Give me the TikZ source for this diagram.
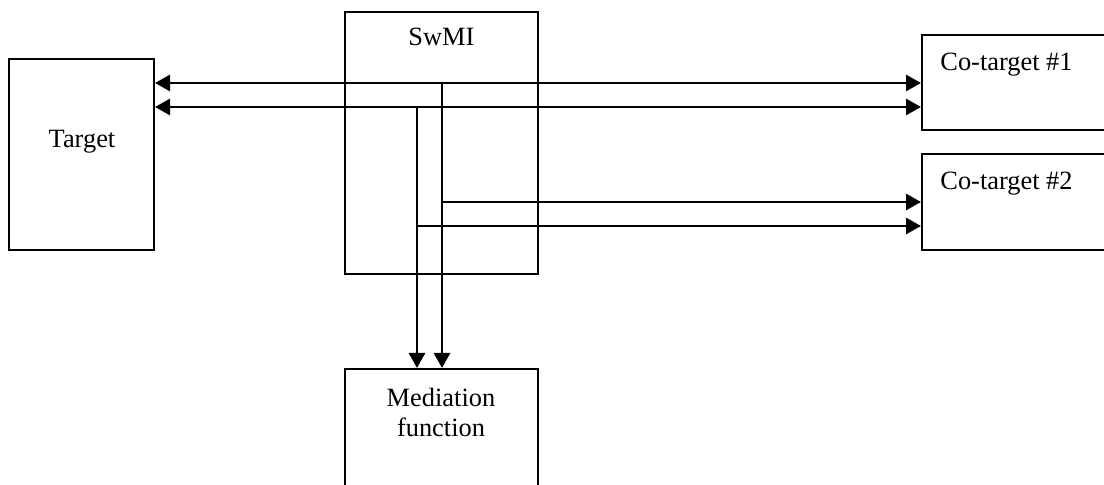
\documentclass[tikz,border=0pt]{standalone}
\usepackage{fontspec}
\setmainfont{Liberation Serif}
\usetikzlibrary{arrows.meta}
\begin{document}
\begin{tikzpicture}[x=0.5pt,y=-0.5pt,
  box/.style={draw,line width=1pt,rectangle,inner sep=0pt},
  lbl/.style={inner sep=0pt,font=\fontsize{13.2}{15}\selectfont},
  arr/.style={line width=1.4pt,-{Triangle[length=7.5pt,width=8pt]}},
  darr/.style={line width=1.4pt,{Triangle[length=7.5pt,width=8pt]}-{Triangle[length=7.5pt,width=8pt]}}]
\clip (0,0) rectangle (1104,485);
\fill[white] (0,0) rectangle (1104,485);
% boxes
\node[box,minimum width=72.5pt,minimum height=95.5pt] (Target) at (81.5,154.5) {};
\node[box,minimum width=96.5pt,minimum height=131pt] (SwMI) at (441.5,143) {};
\node[box,minimum width=99pt,minimum height=47.5pt] (Co1) at (1021,82.5) {};
\node[box,minimum width=99pt,minimum height=48pt] (Co2) at (1021,202) {};
\node[box,minimum width=96.5pt,minimum height=75.5pt] (Med) at (441.5,444.5) {};
% labels
\node[lbl,anchor=base] (tTarget) at (82,148) {Target};
\node[lbl,anchor=base] (tSwMI) at (441.5,46) {SwMI};
\node[lbl,anchor=base west] (tCo1) at (940,71) {Co-target \#1};
\node[lbl,anchor=base west] (tCo2) at (940,190) {Co-target \#2};
\node[lbl,anchor=north,align=center] (tMed) at (441,388) {Mediation\\function};
% routing coordinates
\coordinate (r1) at (442,83);
\coordinate (r2) at (417,107);
\coordinate (h1) at (442,202);
\coordinate (h2) at (417,226);
% connectors
\draw[darr] (Target.east |- r1) -- (Co1.west |- r1);
\draw[darr] (Target.east |- r2) -- (Co1.west |- r2);
\draw[arr] (r1) -- (r1 |- Med.north);
\draw[arr] (r2) -- (r2 |- Med.north);
\draw[arr] (h1) -- (Co2.west |- h1);
\draw[arr] (h2) -- (Co2.west |- h2);
\end{tikzpicture}
\end{document}
